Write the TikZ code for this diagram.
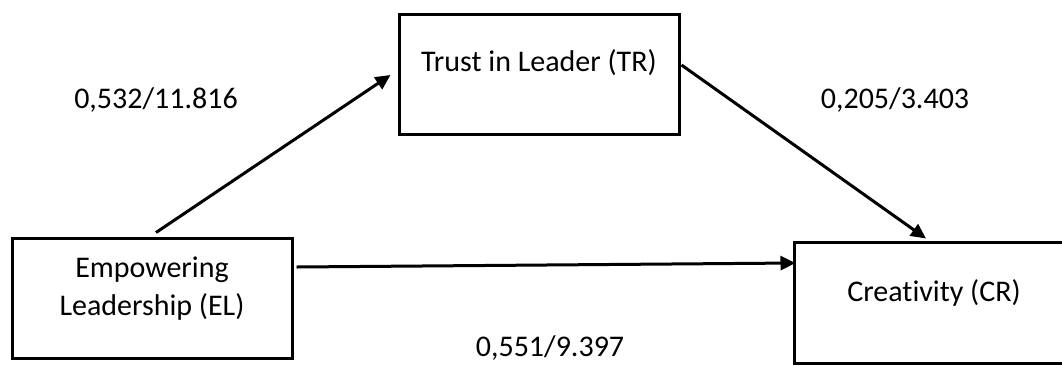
\documentclass[tikz,border=0pt]{standalone}
\usepackage{fontspec}
\setmainfont{Carlito}[Ligatures={NoCommon}]
\usetikzlibrary{arrows.meta}
\tikzset{
  box/.style={draw=black, line width=3pt, minimum width=280pt, minimum height=120pt, inner sep=0pt},
  lbl/.style={font=\fontsize{30pt}{38pt}\selectfont, align=center, inner sep=0pt},
  arr/.style={line width=3pt, -{Triangle[length=15pt,width=14pt]}}
}
\begin{document}
\begin{tikzpicture}[x=1pt,y=-1pt]
\clip (0,0) rectangle (1062,365);
\fill[white] (0,0) rectangle (1062,365);
\node[box] (el) at (152,298) {};
\node[box] (tr) at (539,74) {};
\node[box, minimum height=121pt] (cr) at (934,302.5) {};
\node[lbl] (elt) at ([yshift=9pt]el.center) {Empowering\\Leadership (EL)};
\node[lbl] (trt) at ([yshift=11pt]tr.center) {Trust in Leader (TR)};
\node[lbl] (crt) at ([yshift=10pt]cr.center) {Creativity (CR)};
\node[lbl] (l1) at (156,100) {0,532/11.816};
\node[lbl] (l2) at (895,100) {0,205/3.403};
\node[lbl] (l3) at (550,348) {0,551/9.397};
\draw[arr] ([xshift=4pt,yshift=4pt]el.north) -- ([xshift=-7pt,yshift=-1pt]tr.west);
\draw[arr] ([xshift=1pt,yshift=9pt]tr.east) -- ([xshift=-8pt,yshift=2pt]cr.north);
\draw[arr] ([xshift=3pt,yshift=31pt]el.east) -- ([xshift=3pt,yshift=39.5pt]cr.west);
\end{tikzpicture}
\end{document}
